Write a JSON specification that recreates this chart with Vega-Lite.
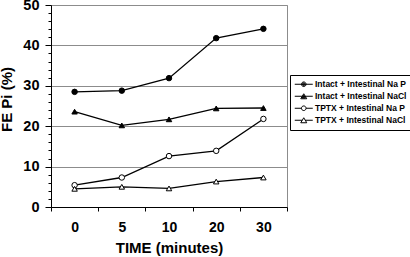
{
  "$schema": "https://vega.github.io/schema/vega-lite/v6.json",
  "autosize": "none",
  "width": 236,
  "height": 202,
  "padding": {"left": 51, "top": 5, "right": 123, "bottom": 50},
  "background": "white",
  "config": {
    "font": "Liberation Sans",
    "view": {"stroke": "#8c8c8c", "strokeWidth": 1},
    "axis": {"domainColor": "black", "tickColor": "black", "labelFont": "Liberation Sans", "titleFont": "Liberation Sans", "labelColor": "black", "titleColor": "black"}
  },
  "data": {
    "values": [
      {"time": "0", "series": "Intact + Intestinal Na P", "fe": 28.5},
      {"time": "5", "series": "Intact + Intestinal Na P", "fe": 28.8},
      {"time": "10", "series": "Intact + Intestinal Na P", "fe": 31.9},
      {"time": "20", "series": "Intact + Intestinal Na P", "fe": 41.8},
      {"time": "30", "series": "Intact + Intestinal Na P", "fe": 44.1},
      {"time": "0", "series": "Intact + Intestinal NaCl", "fe": 23.6},
      {"time": "5", "series": "Intact + Intestinal NaCl", "fe": 20.2},
      {"time": "10", "series": "Intact + Intestinal NaCl", "fe": 21.7},
      {"time": "20", "series": "Intact + Intestinal NaCl", "fe": 24.4},
      {"time": "30", "series": "Intact + Intestinal NaCl", "fe": 24.5},
      {"time": "0", "series": "TPTX + Intestinal Na P", "fe": 5.4},
      {"time": "5", "series": "TPTX + Intestinal Na P", "fe": 7.3},
      {"time": "10", "series": "TPTX + Intestinal Na P", "fe": 12.6},
      {"time": "20", "series": "TPTX + Intestinal Na P", "fe": 13.9},
      {"time": "30", "series": "TPTX + Intestinal Na P", "fe": 21.8},
      {"time": "0", "series": "TPTX + Intestinal NaCl", "fe": 4.5},
      {"time": "5", "series": "TPTX + Intestinal NaCl", "fe": 5.0},
      {"time": "10", "series": "TPTX + Intestinal NaCl", "fe": 4.6},
      {"time": "20", "series": "TPTX + Intestinal NaCl", "fe": 6.3},
      {"time": "30", "series": "TPTX + Intestinal NaCl", "fe": 7.3}
    ]
  },
  "encoding": {
    "x": {
      "field": "time", "type": "ordinal", "sort": ["0", "5", "10", "20", "30"],
      "scale": {"type": "band", "paddingInner": 0, "paddingOuter": 0},
      "axis": {
        "title": "TIME (minutes)", "labelAngle": 0, "tickBand": "extent",
        "tickSize": 4, "labelPadding": 9, "labelFontSize": 14, "labelFontWeight": "bold",
        "titleFontSize": 15, "titleFontWeight": "bold", "titlePadding": 6, "grid": false
      }
    },
    "y": {
      "field": "fe", "type": "quantitative",
      "scale": {"domain": [0, 50], "nice": false},
      "axis": {
        "title": "FE Pi (%)",
        "values": [0, 2, 4, 6, 8, 10, 12, 14, 16, 18, 20, 22, 24, 26, 28, 30, 32, 34, 36, 38, 40, 42, 44, 46, 48, 50],
        "labelExpr": "datum.value % 10 === 0 ? datum.label : ''",
        "tickSize": {"condition": {"test": "datum.value % 10 === 0", "value": 6}, "value": 3},
        "grid": true,
        "gridColor": "#8c8c8c",
        "gridOpacity": {"condition": {"test": "datum.value % 10 === 0 && datum.value > 0", "value": 1}, "value": 0},
        "labelFontSize": 14.5, "labelFontWeight": "bold", "labelPadding": 6,
        "titleFontSize": 15, "titleFontWeight": "bold", "titlePadding": 8, "titleY": 94
      }
    }
  },
  "layer": [
    {
      "mark": {"type": "line", "color": "black", "strokeWidth": 1.3},
      "encoding": {"detail": {"field": "series"}}
    },
    {
      "mark": {"type": "point", "filled": false, "stroke": "black", "strokeWidth": 1, "opacity": 1, "size": 30},
      "encoding": {
        "shape": {
          "field": "series", "type": "nominal",
          "scale": {"range": ["circle", "triangle-up", "circle", "triangle-up"]},
          "legend": null
        },
        "fill": {
          "field": "series", "type": "nominal",
          "scale": {"range": ["black", "black", "white", "white"]},
          "legend": null
        }
      }
    },
    {
      "transform": [{"filter": "false"}],
      "mark": {"type": "point", "filled": false, "color": "black", "strokeWidth": 1, "opacity": 1, "size": 25},
      "encoding": {
        "shape": {
          "field": "series", "type": "nominal", "title": null,
          "scale": {
            "domain": ["Intact + Intestinal Na P", "Intact + Intestinal NaCl", "TPTX + Intestinal Na P", "TPTX + Intestinal NaCl"],
            "range": [
              "M-3.6,0H3.6M-0.92,0A0.92,0.92,0,1,1,0.92,0A0.92,0.92,0,1,1,-0.92,0ZM-0.55,0A0.55,0.55,0,1,1,0.55,0A0.55,0.55,0,1,1,-0.55,0ZM-0.2,0A0.2,0.2,0,1,1,0.2,0A0.2,0.2,0,1,1,-0.2,0Z",
              "M-3.6,0H3.6M0,-1L1.2,1L-1.2,1ZM0,-0.4L0.66,0.7L-0.66,0.7ZM0,0.07L0.24,0.47L-0.24,0.47Z",
              "M-3.6,0H-0.92M0.92,0H3.6M-0.92,0A0.92,0.92,0,1,1,0.92,0A0.92,0.92,0,1,1,-0.92,0Z",
              "M-3.6,0H-0.6M0.6,0H3.6M0,-1L1.2,1L-1.2,1Z"
            ]
          },
          "legend": {
            "title": null, "orient": "none", "legendX": 239, "legendY": 70,
            "strokeColor": "black", "padding": 5,
            "labelFontSize": 8.5, "labelFontWeight": "bold", "labelColor": "black",
            "symbolSize": 25, "symbolStrokeColor": "black", "symbolStrokeWidth": 1, "symbolFillColor": "transparent",
            "symbolOffset": 4.5, "labelOffset": 7, "rowPadding": 2
          }
        }
      }
    }
  ],
  "resolve": {"scale": {"shape": "independent"}}
}
